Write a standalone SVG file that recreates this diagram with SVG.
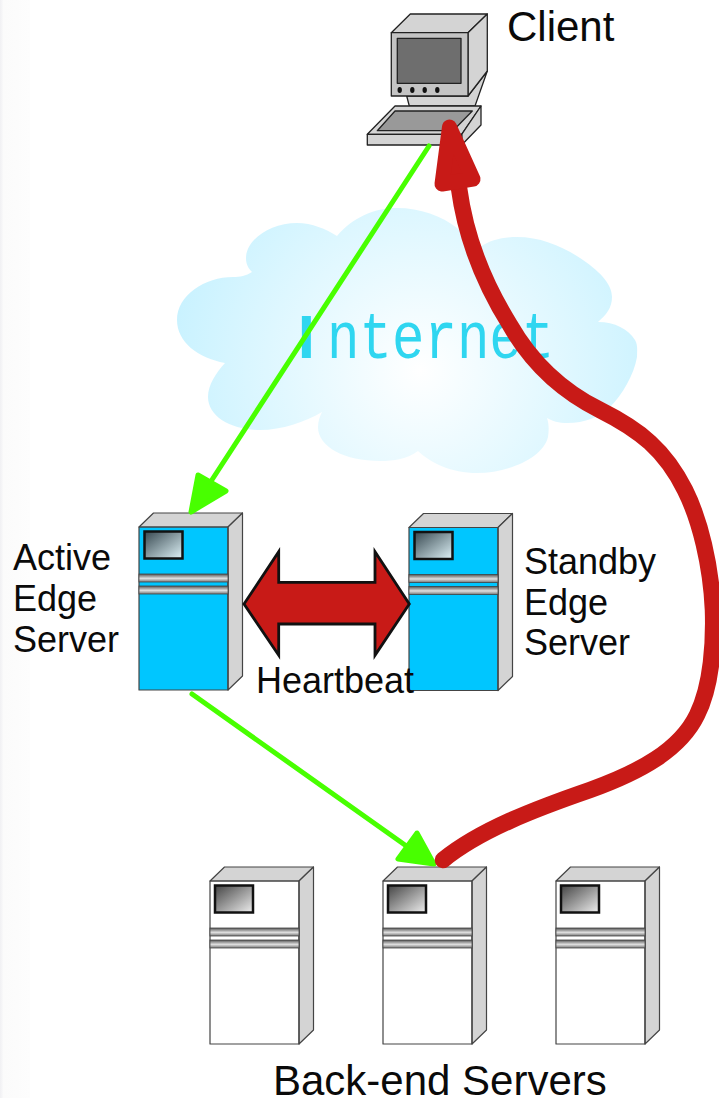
<svg xmlns="http://www.w3.org/2000/svg" xmlns:xlink="http://www.w3.org/1999/xlink" width="719" height="1098" viewBox="0 0 719 1098">
<style>
.lbl{font-family:"Liberation Sans",Arial,sans-serif;font-size:36px;fill:#0a0a0a}
.big{font-size:42px}
.face{stroke:#444;stroke-width:1.2;stroke-linejoin:round}
.gray{fill:#d4d4d4}
.mon{stroke:#222;stroke-width:1.3;stroke-linejoin:round}
.green{stroke:#48ff00;fill:none;stroke-width:5;stroke-linecap:round}
.greenhead{fill:#48ff00;stroke:#48ff00;stroke-width:5;stroke-linejoin:round}
.red{stroke:#c81a17;fill:none;stroke-width:16.5;stroke-linecap:round;stroke-linejoin:round}
.redhead{fill:#c81a17;stroke:#c81a17;stroke-width:15;stroke-linejoin:round}
</style>
<defs>
<linearGradient id="strip" x1="0" x2="1" y1="0" y2="0"><stop offset="0" stop-color="#f0f0f3"/><stop offset="0.12" stop-color="#fbfbfb"/><stop offset="1" stop-color="#fdfdfd"/></linearGradient>
<radialGradient id="cloud" gradientUnits="userSpaceOnUse" cx="420" cy="370" r="250"><stop offset="0" stop-color="#ffffff"/><stop offset="1" stop-color="#c9f2ff"/></radialGradient>
<linearGradient id="winG" x1="0" y1="0" x2="1" y2="1"><stop offset="0" stop-color="#444"/><stop offset="1" stop-color="#eee"/></linearGradient>
<linearGradient id="winB" x1="0" y1="0" x2="1" y2="1"><stop offset="0" stop-color="#36474f"/><stop offset="1" stop-color="#dff3f8"/></linearGradient>
<linearGradient id="band" x1="0" y1="0" x2="0" y2="1"><stop offset="0" stop-color="#555"/><stop offset="0.55" stop-color="#e0e0e0"/><stop offset="1" stop-color="#777"/></linearGradient>
<g id="server">
<path class="face gray" d="M0 0L14.500 -14H103.500L89 0Z"/>
<path class="face gray" d="M89 0L103.500 -14V149L89 163Z"/>
<rect class="face" x="0" y="0" width="89" height="163" fill="none"/>
<rect x="0" y="47" width="89" height="8" fill="url(#band)" stroke="#444" stroke-width="0.800"/>
<rect x="0" y="59" width="89" height="8" fill="url(#band)" stroke="#444" stroke-width="0.800"/>
</g>
</defs>
<rect x="0" y="0" width="30" height="1098" fill="url(#strip)"/>
<g id="cloud-internet">
<path fill="url(#cloud)" d="M337 236C352 218 374 208 397 208C420 208 442 216 457 228C464 234 472 242 480 247C490 240 503 237 517 237C540 237 562 246 580 258C598 270 612 283 612 297C612 308 606 315 598 322C615 322 628 329 635 340C638 345 637 351 637 357C634 375 622 395 610 407C600 417 585 423 567 423C559 423 552 421 547 418C549 424 549 430 548 437C543 458 508 473 477 473C451 473 431 463 418 451C407 459 394 461 380 461C345 461 318 447 318 427C318 421 320 416 322 412C305 422 282 430 260 430C232 430 208 417 208 397C208 385 216 373 225 363C198 358 177 342 177 320C177 295 205 277 233 277C240 277 246 276 252 272C248 268 246 264 246 258C246 240 270 223 297 223C312 223 326 229 337 236Z"/>
<text font-family="'Liberation Sans',Roboto,sans-serif" font-size="62" font-weight="700" fill="#2fd6f0" x="297.700" y="358">I</text>
<text font-family="'Liberation Mono','DejaVu Sans Mono',monospace" font-size="66" fill="#2fd6f0" transform="translate(327 358) scale(0.82 1)">nternet</text>
</g>
<g id="client">
<path class="mon gray" d="M406.700 96L409.300 106H475L487.300 71L468 96Z"/>
<path class="mon gray" d="M391.300 32.700L410.300 14H487.300L468 32.700Z"/>
<path class="mon gray" d="M468 32.700L487.300 14V71L468 96Z"/>
<rect class="mon" x="391.300" y="32.700" width="76.700" height="63.300" fill="#c4c4c4"/>
<rect class="mon" x="397.300" y="38.300" width="63.700" height="45" fill="#6e6e6e"/>
<g fill="#111"><ellipse cx="399.700" cy="90" rx="2.200" ry="3"/><ellipse cx="412.300" cy="90" rx="2.200" ry="3"/><ellipse cx="424.700" cy="90" rx="2.200" ry="3"/><ellipse cx="437.300" cy="90" rx="2.200" ry="3"/></g>
<path class="mon gray" d="M395 106H481L461.700 134.300H367.300Z"/>
<path class="mon gray" d="M481 106V125L461.700 145V134.300Z"/>
<rect class="mon gray" x="367.300" y="134.300" width="94.400" height="10.700"/>
<path class="mon" fill="#999" d="M395 111H472.300L453 130.700H377.300Z"/>
<text class="lbl big" x="507" y="41">Client</text>
</g>
<g id="active-edge-server">
<rect x="139" y="527" width="89" height="163" fill="#00c6ff"/>
<use href="#server" xlink:href="#server" x="139" y="527"/>
<rect x="144.500" y="531.500" width="38" height="27" fill="url(#winB)" stroke="#111" stroke-width="2.500"/>
<text class="lbl" x="13" y="570">Active</text><text class="lbl" x="13" y="611">Edge</text><text class="lbl" x="13" y="652">Server</text>
</g>
<g id="standby-edge-server">
<rect x="409" y="527.500" width="89" height="163" fill="#00c6ff"/>
<use href="#server" xlink:href="#server" x="409" y="527.500"/>
<rect x="414.500" y="532" width="38" height="27" fill="url(#winB)" stroke="#111" stroke-width="2.500"/>
<text class="lbl" x="524" y="574">Standby</text><text class="lbl" x="524" y="615">Edge</text><text class="lbl" x="524" y="655">Server</text>
</g>
<g id="backend-1">
<rect x="210" y="881" width="89" height="163" fill="#fff"/>
<use href="#server" xlink:href="#server" x="210" y="881"/>
<rect x="215" y="885.500" width="38" height="27" fill="url(#winG)" stroke="#111" stroke-width="2.500"/>
</g>
<g id="backend-2">
<rect x="383" y="881" width="89" height="163" fill="#fff"/>
<use href="#server" xlink:href="#server" x="383" y="881"/>
<rect x="388" y="885.500" width="38" height="27" fill="url(#winG)" stroke="#111" stroke-width="2.500"/>
</g>
<g id="backend-3">
<rect x="556" y="881" width="89" height="163" fill="#fff"/>
<use href="#server" xlink:href="#server" x="556" y="881"/>
<rect x="561" y="885.500" width="38" height="27" fill="url(#winG)" stroke="#111" stroke-width="2.500"/>
</g>
<g id="connectors">
<path class="green" d="M429 146L206 489"/>
<path class="greenhead" d="M191 512L198 475L226 491Z"/>
<path class="green" d="M192 694L412 850"/>
<path class="greenhead" d="M434 864L417 833L398 859Z"/>
<path class="red" d="M443 860C480 830 535 809 590 790C640 772 680 750 697 715C712 685 714 640 713 610C711 565 700 520 685 490C665 450 640 430 600 410C560 390 530 360 510 325C485 285 466 240 459 188"/>
<path class="redhead" d="M449.500 127L442 184L473 179Z"/>
<path id="heartbeat-arrow" fill="#c81a17" stroke="#111" stroke-width="2.800" stroke-linejoin="miter" d="M244 604L278.700 551.700V582.300H375V551.700L409.300 604L375 655.300V624H278.700V655.300Z"/>
</g>
<text class="lbl" x="256" y="693">Heartbeat</text>
<text class="lbl big" x="273" y="1095">Back-end Servers</text>
</svg>
